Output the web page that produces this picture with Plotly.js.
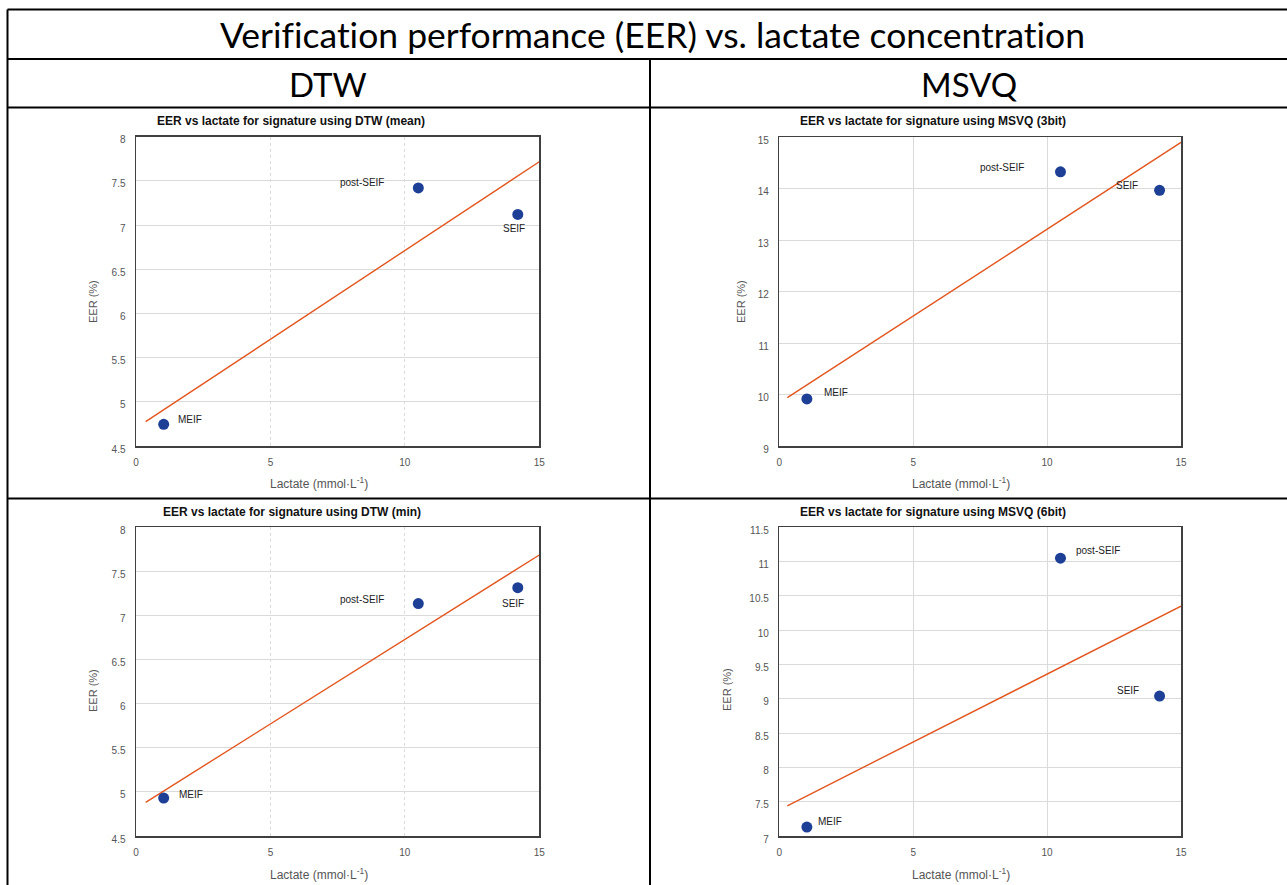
<!DOCTYPE html>
<html>
<head>
<meta charset="utf-8">
<script src="https://cdn.plot.ly/plotly-3.0.1.min.js"></script>
<style>html,body{margin:0;padding:0;background:#fff;}#chart{width:1287px;height:885px;}text{font-variant-ligatures:none !important;font-feature-settings:"liga" 0,"clig" 0 !important;}</style>
</head>
<body>
<div id="chart"></div>
<script>
// ---- data ----
const pointLabels = ['MEIF', 'post-SEIF', 'SEIF'];
const lactate = [1.03, 10.5, 14.2];
const eerDtwMean = [4.745, 7.42, 7.12];
const eerDtwMin = [4.93, 7.135, 7.315];
const eerMsvq3 = [9.915, 14.33, 13.97];
const eerMsvq6 = [7.13, 11.05, 9.04];
const fitXDtw = [0.36, 15];
const fitXMsvq = [0.30, 15];
const fitDtwMean = [4.775, 7.717];
const fitDtwMin = [4.882, 7.686];
const fitMsvq3 = [9.94, 14.90];
const fitMsvq6 = [7.44, 10.35];
const xTicks = [0, 5, 10, 15];
const panelTitles = [
  'EER vs lactate for signature using DTW (mean)',
  'EER vs lactate for signature using MSVQ (3bit)',
  'EER vs lactate for signature using DTW (min)',
  'EER vs lactate for signature using MSVQ (6bit)'
];
const mainTitle = 'Verification performance (EER) vs. lactate concentration';
const columnTitles = ['DTW', 'MSVQ'];

// ---- layout helpers (pixel geometry) ----
const W = 1287, H = 885;
const px = x => x / W;
const py = y => 1 - y / H;
const FONT = 'Liberation Sans';
const HEAD = 'Lato';

const panels = [
  {eer: eerDtwMean, fx: fitXDtw, fy: fitDtwMean, yr: [4.5, 8], dt: 0.5, box: [136, 539.3, 136.7, 446], dotted: true,
   lab: [{a:'left', dx:12, dy:5}, {a:'right', dx:-32, dy:5}, {a:'center', dx:-4, dy:-14}],
   title: [291, 121], ytitle: [93, 302], xtitle: [319, 483]},
  {eer: eerMsvq3, fx: fitXMsvq, fy: fitMsvq3, yr: [9, 15], dt: 1, box: [779.3, 1181, 137.3, 446], dotted: false,
   lab: [{a:'left', dx:15, dy:6}, {a:'right', dx:-34, dy:4}, {a:'right', dx:-20, dy:5}],
   title: [933, 121], ytitle: [741, 302], xtitle: [961, 483]},
  {eer: eerDtwMin, fx: fitXDtw, fy: fitDtwMin, yr: [4.5, 8], dt: 0.5, box: [136, 539.3, 527.3, 836], dotted: true,
   lab: [{a:'left', dx:13, dy:4}, {a:'right', dx:-32, dy:4}, {a:'center', dx:-5, dy:-16}],
   title: [292, 512], ytitle: [93, 691], xtitle: [319, 874]},
  {eer: eerMsvq6, fx: fitXMsvq, fy: fitMsvq6, yr: [7, 11.5], dt: 0.5, box: [779.3, 1181, 527.3, 836], dotted: false,
   lab: [{a:'left', dx:9, dy:6}, {a:'left', dx:14, dy:8}, {a:'right', dx:-19, dy:6}],
   title: [933, 512], ytitle: [727, 690], xtitle: [961, 874]}
];

const traces = [];
const annotations = [];
const layout = {
  width: W, height: H,
  margin: {l: 0, r: 0, t: 0, b: 0},
  paper_bgcolor: '#fff', plot_bgcolor: '#fff',
  showlegend: false,
  font: {family: FONT, color: '#222'},
  shapes: [],
  annotations: annotations
};

panels.forEach((p, i) => {
  const n = i + 1;
  const xa = 'x' + (n === 1 ? '' : n), ya = 'y' + (n === 1 ? '' : n);
  const xk = 'xaxis' + (n === 1 ? '' : n), yk = 'yaxis' + (n === 1 ? '' : n);
  layout[xk] = {
    domain: [px(p.box[0]), px(p.box[1])], anchor: ya,
    range: [0, 15], tickvals: xTicks, ticktext: xTicks.map(String),
    showgrid: true, gridcolor: p.dotted ? '#dcdcdc' : '#dadada', gridwidth: 1, griddash: p.dotted ? 'dot' : 'solid',
    zeroline: false, showline: true, mirror: true, linecolor: '#404040', linewidth: 1.5,
    ticks: '', ticklabelstandoff: 6,
    tickfont: {family: FONT, size: 10, color: '#555'}
  };
  layout[yk] = {
    domain: [py(p.box[3]), py(p.box[2])], anchor: xa,
    range: p.yr, dtick: p.dt, tick0: p.yr[0],
    showgrid: true, gridcolor: '#dadada', gridwidth: 1,
    zeroline: false, showline: true, mirror: true, linecolor: '#404040', linewidth: 1.5,
    ticks: '', ticklabelstandoff: 7, ticklabelshift: 3,
    tickfont: {family: FONT, size: 10, color: '#555'}
  };
  traces.push({
    type: 'scatter', mode: 'lines', x: p.fx, y: p.fy, xaxis: xa, yaxis: ya,
    line: {color: '#e2561f', width: 1.4}, hoverinfo: 'skip'
  });
  traces.push({
    type: 'scatter', mode: 'markers', x: lactate, y: p.eer, xaxis: xa, yaxis: ya,
    marker: {color: '#1d3f95', size: 11, line: {width: 0}}
  });
  pointLabels.forEach((lbl, k) => {
    const o = p.lab[k];
    annotations.push({
      xref: xa, yref: ya, x: lactate[k], y: p.eer[k], text: lbl, showarrow: false,
      xanchor: o.a, yanchor: 'middle', xshift: o.dx, yshift: o.dy,
      font: {family: FONT, size: 10, color: '#222'}
    });
  });
  annotations.push({
    xref: 'paper', yref: 'paper', x: px(p.title[0]), y: py(p.title[1]), text: '<b>' + panelTitles[i] + '</b>',
    showarrow: false, xanchor: 'center', yanchor: 'middle', font: {family: FONT, size: 12, color: '#111'}
  });
  annotations.push({
    xref: 'paper', yref: 'paper', x: px(p.ytitle[0]), y: py(p.ytitle[1]), text: 'EER (%)', textangle: -90,
    showarrow: false, xanchor: 'center', yanchor: 'middle', font: {family: FONT, size: 11, color: '#555'}
  });
  annotations.push({
    xref: 'paper', yref: 'paper', x: px(p.xtitle[0]), y: py(p.xtitle[1]), text: 'Lactate (mmol·L<sup>-1</sup>)',
    showarrow: false, xanchor: 'center', yanchor: 'middle', font: {family: FONT, size: 12, color: '#555'}
  });
});

// table header texts
annotations.push({xref: 'paper', yref: 'paper', x: px(653), y: py(35), text: mainTitle, showarrow: false,
  xanchor: 'center', yanchor: 'middle', font: {family: HEAD, size: 35.5, color: '#000'}});
annotations.push({xref: 'paper', yref: 'paper', x: px(328), y: py(84), text: columnTitles[0], showarrow: false,
  xanchor: 'center', yanchor: 'middle', font: {family: HEAD, size: 33, color: '#000'}});
annotations.push({xref: 'paper', yref: 'paper', x: px(969), y: py(84), text: columnTitles[1], showarrow: false,
  xanchor: 'center', yanchor: 'middle', font: {family: HEAD, size: 33, color: '#000'}});

// table borders
const ln = (x0, y0, x1, y1) => ({type: 'line', xref: 'paper', yref: 'paper', x0: px(x0), y0: py(y0), x1: px(x1), y1: py(y1),
  line: {color: '#000', width: 2}, layer: 'above'});
layout.shapes.push(ln(7.5, 9.5, W, 9.5));
layout.shapes.push(ln(7.5, 9.5, 7.5, H));
layout.shapes.push(ln(7.5, 59, W, 59));
layout.shapes.push(ln(7.5, 107.5, W, 107.5));
layout.shapes.push(ln(650, 59, 650, H));
layout.shapes.push(ln(7.5, 498.5, W, 498.5));

Plotly.newPlot('chart', traces, layout, {staticPlot: true, displayModeBar: false});
</script>
</body>
</html>
